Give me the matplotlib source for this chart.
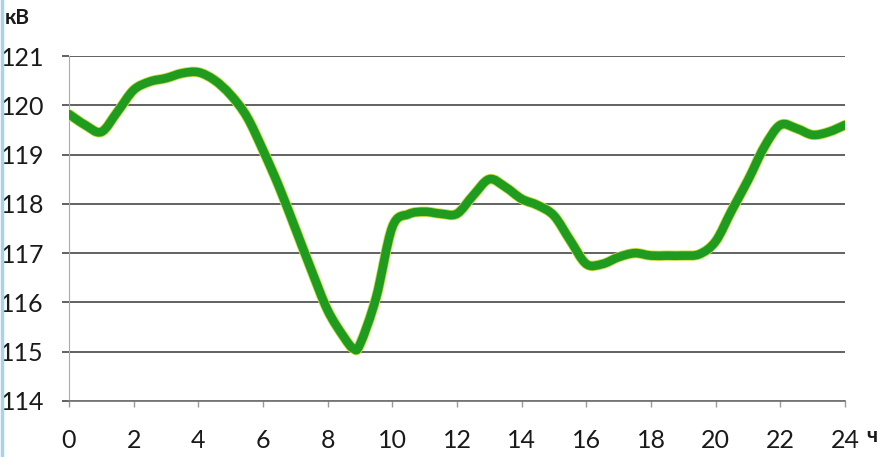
import matplotlib.pyplot as plt
from matplotlib.lines import Line2D
from matplotlib.path import Path
from matplotlib.patches import PathPatch

# hours and voltage (half-hour steps)
hours = [0, 0.5, 1, 1.5, 2, 2.5, 3, 3.5, 4, 4.5, 5, 5.5, 6, 6.5, 7, 7.5, 8, 8.5, 8.8,
         9, 9.5, 10, 10.5, 11, 11.5, 12, 12.5, 13, 13.5, 14, 14.5, 15, 15.5, 16, 16.5,
         17, 17.5, 18, 18.5, 19, 19.5, 20, 20.5, 21, 21.5, 22, 22.5, 23, 23.5, 24]
voltage = [119.82, 119.6, 119.46, 119.87, 120.31, 120.48, 120.55, 120.65, 120.67, 120.51,
           120.21, 119.77, 119.09, 118.34, 117.5, 116.65, 115.84, 115.3, 115.06,
           115.15, 116.1, 117.53, 117.79, 117.84, 117.8, 117.8, 118.17, 118.5, 118.34,
           118.1, 117.97, 117.76, 117.26, 116.78, 116.78, 116.92, 117.0, 116.95, 116.95,
           116.95, 116.98, 117.24, 117.87, 118.48, 119.15, 119.6, 119.53, 119.4, 119.46, 119.6]

x_ticks = list(range(0, 25, 2))
y_ticks = list(range(114, 122))


def smooth_path(xs, ys):
    # smoothed line like Excel: bezier segments through every point
    verts = [(xs[0], ys[0])]
    codes = [Path.MOVETO]
    n = len(xs)
    for i in range(n - 1):
        p0 = (xs[max(i - 1, 0)], ys[max(i - 1, 0)])
        p1 = (xs[i], ys[i])
        p2 = (xs[i + 1], ys[i + 1])
        p3 = (xs[min(i + 2, n - 1)], ys[min(i + 2, n - 1)])
        c1 = (p1[0] + (p2[0] - p0[0]) / 6, p1[1] + (p2[1] - p0[1]) / 6)
        c2 = (p2[0] - (p3[0] - p1[0]) / 6, p2[1] - (p3[1] - p1[1]) / 6)
        verts += [c1, c2, p2]
        codes += [Path.CURVE4] * 3
    return Path(verts, codes)


plt.rcParams['font.family'] = ['Lato', 'DejaVu Sans']

fig = plt.figure(figsize=(8.83, 4.57), dpi=100)
ax = fig.add_axes([69 / 883, 1 - 401 / 457, (845 - 69) / 883, (401 - 56) / 457])

curve = smooth_path(hours, voltage)
# faint yellowish halo under the green curve, like the scan
ax.add_patch(PathPatch(curve, facecolor='none', edgecolor='#c6df45', lw=7.4,
                       capstyle='round', joinstyle='round', zorder=3))
ax.add_patch(PathPatch(curve, facecolor='none', edgecolor='#1f9c1f', lw=6.2,
                       capstyle='round', joinstyle='round', zorder=4))

ax.set_xlim(0, 24)
ax.set_ylim(114, 121)
ax.set_xticks(x_ticks)
ax.set_yticks(y_ticks)
ax.grid(axis='y', color='#555555', lw=1.3)
ax.set_axisbelow(True)

for s in ['top', 'right']:
    ax.spines[s].set_visible(False)
ax.spines['left'].set_color('#aaaaaa')
ax.spines['bottom'].set_color('#777777')
ax.spines['bottom'].set_linewidth(1.3)

ax.tick_params(axis='y', length=5, width=1.3, color='#555555', pad=13, labelsize=18,
               labelcolor='#1a1a1a')
ax.tick_params(axis='x', length=4, width=1, color='#999999', pad=16, labelsize=18,
               labelcolor='#1a1a1a')

fig.text(5 / 883, 1 - 18 / 457, 'кВ', fontsize=15, fontweight='bold', va='center',
         ha='left', color='#1a1a1a')
fig.text(866 / 883, 1 - 436 / 457, 'ч', fontsize=15, fontweight='bold', va='center',
         ha='left', color='#1a1a1a')

# thin light blue edge on the left of the scan
fig.add_artist(Line2D([1.5 / 883, 1.5 / 883], [0, 1], color='#a8d4ea', lw=2.5,
                      transform=fig.transFigure))

fig.savefig('out.png', dpi=100)
